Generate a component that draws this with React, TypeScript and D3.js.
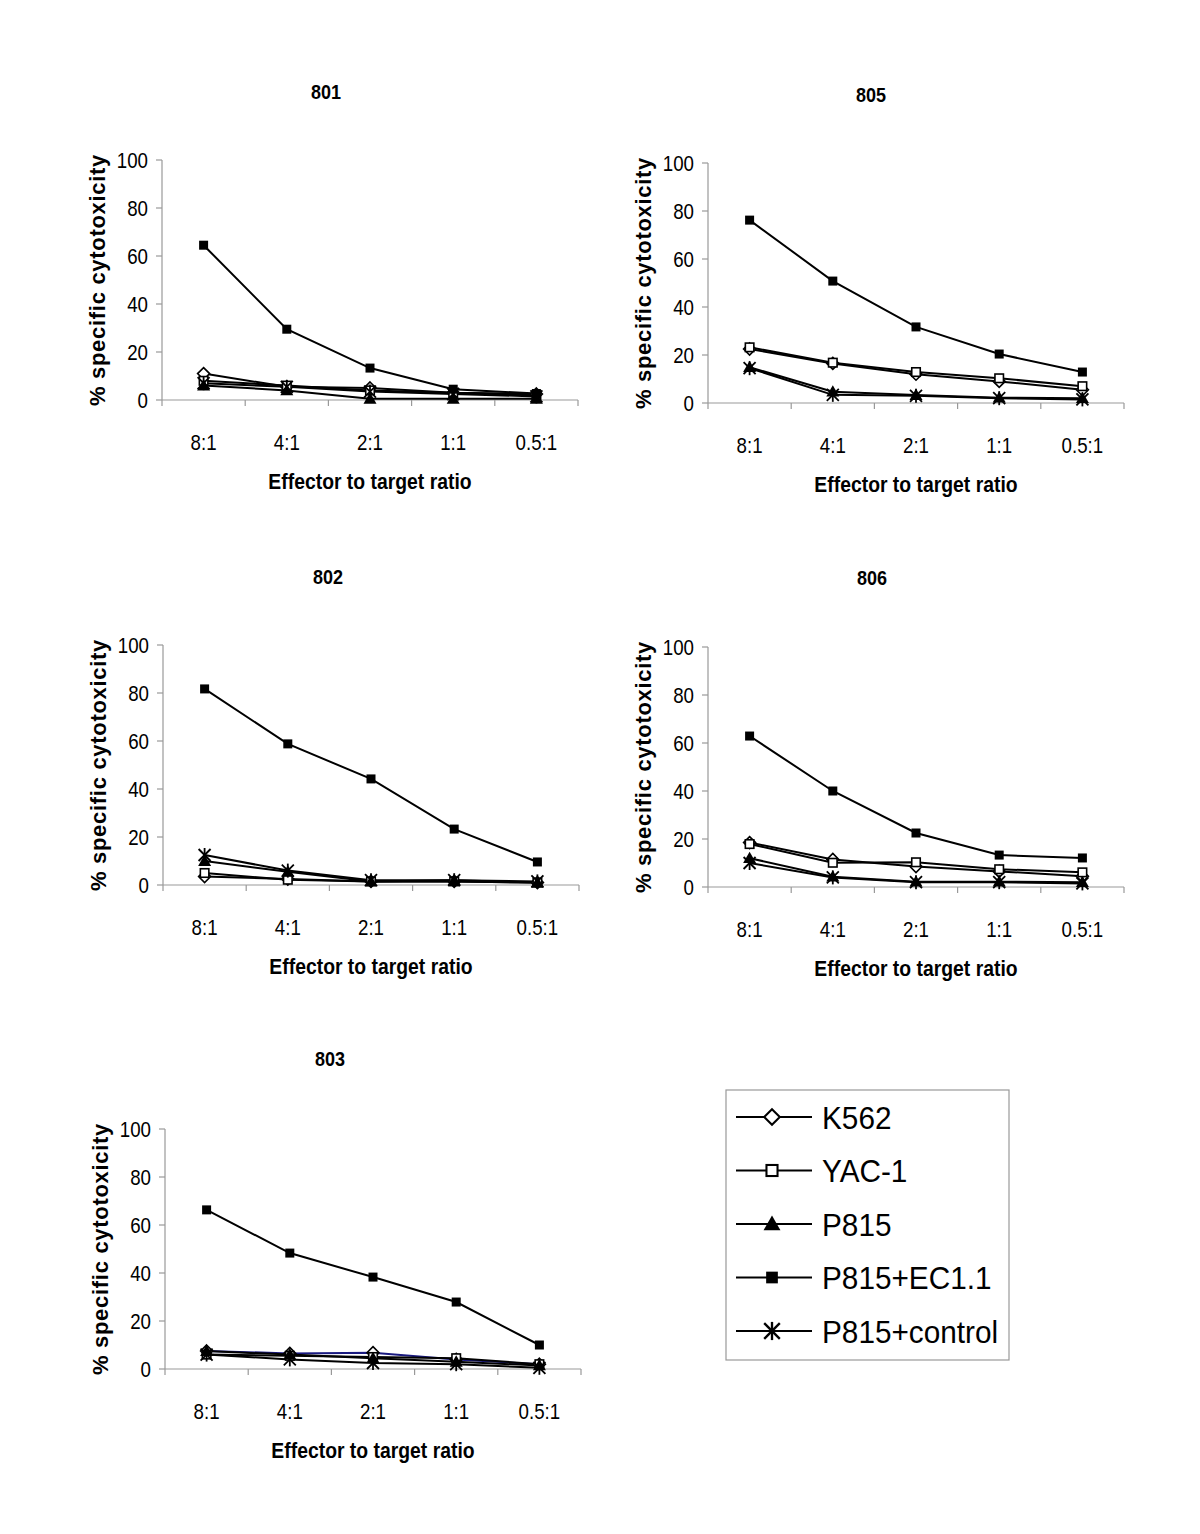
import React from "react";
import * as d3 from "d3";

const ratios = ["8:1", "4:1", "2:1", "1:1", "0.5:1"];
const seriesNames = ["K562", "YAC-1", "P815", "P815+EC1.1", "P815+control"];
const yTicks = [0, 20, 40, 60, 80, 100];

const panel801 = {
  K562: [11, 5.5, 5, 3, 2.5],
  YAC1: [8, 6, 4, 3, 2],
  P815: [6, 4, 0.5, 0.5, 0.5],
  EC11: [64.5, 29.5, 13.3, 4.5, 2.7],
  control: [7, 5.5, 3.5, 2.5, 1.5],
};
const panel805 = {
  K562: [22.5, 16.5, 12, 9, 5.5],
  YAC1: [23.2, 16.8, 12.9, 10.3, 7],
  P815: [14.9, 4.7, 3.3, 2.2, 2],
  EC11: [76.2, 50.8, 31.7, 20.4, 12.9],
  control: [14.5, 3.4, 3, 2, 1.5],
};
const panel802 = {
  K562: [3.5, 2.5, 1.5, 1.5, 1],
  YAC1: [5, 2.2, 1.5, 1.5, 1],
  P815: [10, 5.5, 1.5, 2, 1],
  EC11: [81.7, 58.8, 44.2, 23.3, 9.6],
  control: [12.5, 6, 2, 2, 1.5],
};
const panel806 = {
  K562: [18.5, 11.5, 8.5, 6.5, 4.5],
  YAC1: [17.9, 10.1, 10.3, 7.4, 6.1],
  P815: [12, 4.3, 2.2, 2.2, 2],
  EC11: [62.9, 40, 22.5, 13.3, 12.1],
  control: [10, 4, 2, 2, 1.5],
};
const panel803 = {
  K562: [7.5, 6.5, 6.8, 4, 2],
  YAC1: [6, 5.5, 5, 4.5, 2],
  P815: [7.5, 6, 4.5, 3, 1.5],
  EC11: [66.3, 48.3, 38.3, 27.9, 10],
  control: [6, 4, 2.5, 2, 0.5],
};

type PanelData = typeof panel801;

const panels: {
  title: string;
  data: PanelData;
  ax: number;
  y0: number;
  titleX: number;
  titleY: number;
  k562Color?: string;
}[] = [
  { title: "801", data: panel801, ax: 162, y0: 400, titleX: 326, titleY: 99 },
  { title: "805", data: panel805, ax: 708, y0: 403, titleX: 871, titleY: 102 },
  { title: "802", data: panel802, ax: 163, y0: 885, titleX: 328, titleY: 584 },
  { title: "806", data: panel806, ax: 708, y0: 887, titleX: 872, titleY: 585 },
  { title: "803", data: panel803, ax: 165, y0: 1369, titleX: 330, titleY: 1066, k562Color: "#1a1a80" },
];

const FONT = "'Liberation Sans', Arial, Helvetica, sans-serif";
const AXIS_W = 416;
const AXIS_H = 240;

function Marker({ kind, x, y }: { kind: string; x: number; y: number }) {
  if (kind === "K562") {
    const r = 6;
    return (
      <path
        d={`M${x},${y - r}L${x + r},${y}L${x},${y + r}L${x - r},${y}Z`}
        fill="#fff"
        stroke="#000"
        strokeWidth={1.6}
      />
    );
  }
  if (kind === "YAC1") {
    const s = 8.5;
    return <rect x={x - s / 2} y={y - s / 2} width={s} height={s} fill="#fff" stroke="#000" strokeWidth={1.6} />;
  }
  if (kind === "P815") {
    const r = 6.5;
    return <path d={`M${x},${y - r}L${x + r},${y + r * 0.75}L${x - r},${y + r * 0.75}Z`} fill="#000" />;
  }
  if (kind === "EC11") {
    const s = 9;
    return <rect x={x - s / 2} y={y - s / 2} width={s} height={s} fill="#000" />;
  }
  const r = 6;
  return (
    <g stroke="#000" strokeWidth={1.8}>
      <line x1={x - r} y1={y - r} x2={x + r} y2={y + r} />
      <line x1={x - r} y1={y + r} x2={x + r} y2={y - r} />
      <line x1={x} y1={y - r - 1} x2={x} y2={y + r + 1} />
    </g>
  );
}

const keys: (keyof PanelData)[] = ["K562", "YAC1", "P815", "EC11", "control"];

function sx(cx: number, s: number) {
  return `translate(${cx},0) scale(${s},1) translate(${-cx},0)`;
}

function Panel({ p }: { p: (typeof panels)[number] }) {
  const x = d3.scaleBand<string>().domain(ratios).range([p.ax, p.ax + AXIS_W]);
  const y = d3.scaleLinear().domain([0, 100]).range([p.y0, p.y0 - AXIS_H]);
  const cx = (r: string) => (x(r) as number) + x.bandwidth() / 2;
  const line = d3
    .line<number>()
    .x((_, i) => cx(ratios[i]))
    .y((v) => y(v));
  const boundaries = ratios.map((r) => x(r) as number).concat([p.ax + AXIS_W]);
  const midY = (y(0) + y(100)) / 2;
  return (
    <g>
      <text x={p.titleX} y={p.titleY} textAnchor="middle" fontFamily={FONT} fontWeight="bold" fontSize={20} transform={sx(p.titleX, 0.9)}>
        {p.title}
      </text>
      <line x1={p.ax} y1={y(0)} x2={p.ax} y2={y(100)} stroke="#999" strokeWidth={1.2} />
      <line x1={p.ax} y1={y(0)} x2={p.ax + AXIS_W} y2={y(0)} stroke="#999" strokeWidth={1.2} />
      {yTicks.map((t) => (
        <g key={t}>
          <line x1={p.ax - 6} x2={p.ax} y1={y(t)} y2={y(t)} stroke="#999" strokeWidth={1.2} />
          <text
            x={p.ax - 14}
            y={y(t) + 8}
            textAnchor="end"
            fontFamily={FONT}
            fontSize={22}
            transform={sx(p.ax - 14, 0.85)}
          >
            {t}
          </text>
        </g>
      ))}
      {boundaries.map((b, i) => (
        <line key={i} x1={b} x2={b} y1={y(0)} y2={y(0) + 6} stroke="#999" strokeWidth={1.2} />
      ))}
      {ratios.map((r) => (
        <text key={r} x={cx(r)} y={y(0) + 50} textAnchor="middle" fontFamily={FONT} fontSize={22} transform={sx(cx(r), 0.85)}>
          {r}
        </text>
      ))}
      <text
        x={p.ax + AXIS_W / 2}
        y={y(0) + 89}
        textAnchor="middle"
        fontFamily={FONT}
        fontWeight="bold"
        fontSize={22}
        transform={sx(p.ax + AXIS_W / 2, 0.88)}
      >
        Effector to target ratio
      </text>
      <text
        transform={`translate(${p.ax - 57},${midY}) rotate(-90)`}
        textAnchor="middle"
        fontFamily={FONT}
        fontWeight="bold"
        fontSize={22}
        letterSpacing={0.7}
      >
        % specific cytotoxicity
      </text>
      {keys.map((k) => (
        <path
          key={k}
          d={line(p.data[k]) as string}
          fill="none"
          stroke={k === "K562" && p.k562Color ? p.k562Color : "#000"}
          strokeWidth={2}
        />
      ))}
      {keys.map((k) => (
        <g key={k}>
          {p.data[k].map((v, i) => (
            <Marker key={i} kind={k} x={cx(ratios[i])} y={y(v)} />
          ))}
        </g>
      ))}
    </g>
  );
}

function Legend() {
  const lx = 726;
  const ly = 1090;
  const rowY = d3.scalePoint<string>().domain(seriesNames).range([1117, 1331]);
  return (
    <g>
      <rect x={lx} y={ly} width={283} height={270} fill="#fff" stroke="#999" strokeWidth={1.2} />
      {seriesNames.map((n, i) => {
        const yy = rowY(n) as number;
        return (
          <g key={n}>
            <line x1={736} x2={812} y1={yy} y2={yy} stroke="#000" strokeWidth={2} />
            <g transform={`translate(${772},${yy}) scale(1.3) translate(${-772},${-yy})`}>
              <Marker kind={keys[i]} x={772} y={yy} />
            </g>
            <text x={822} y={yy + 12} fontFamily={FONT} fontSize={32} transform={sx(822, 0.93)}>
              {n}
            </text>
          </g>
        );
      })}
    </g>
  );
}

export default function App() {
  return (
    <svg width={1200} height={1534} style={{ display: "block", position: "absolute", left: 0, top: 0, background: "#fff" }}>
      <rect x={0} y={0} width={1200} height={1534} fill="#fff" />
      {panels.map((p) => (
        <Panel key={p.title} p={p} />
      ))}
      <Legend />
    </svg>
  );
}
